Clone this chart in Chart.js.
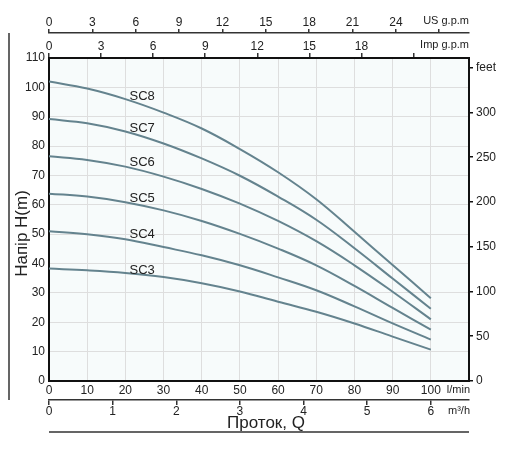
<!DOCTYPE html>
<html><head><meta charset="utf-8">
<script src="https://cdn.jsdelivr.net/npm/chart.js@4.4.1/dist/chart.umd.min.js"></script>
<style>html,body{margin:0;padding:0;background:#fff;overflow:hidden}#wrap{width:512px;height:454px}</style>
</head><body><div id="wrap"><canvas id="c" width="512" height="454"></canvas></div>
<script>
// ---- data (flow in l/min, head in m) ----
const flowLpm = [0, 10, 20, 30, 40, 50, 60, 70, 80, 90, 100];
const headSC8 = [102.0, 99.6, 96.0, 91.4, 86.0, 79.0, 71.1, 61.9, 50.8, 39.5, 28.2];
const headSC7 = [89.2, 87.8, 85.0, 80.9, 75.8, 69.9, 62.8, 54.9, 45.2, 34.9, 24.6];
const headSC6 = [76.5, 75.3, 73.0, 69.6, 65.4, 60.4, 54.5, 47.6, 39.4, 30.4, 21.0];
const headSC5 = [63.8, 62.8, 60.9, 58.1, 54.5, 50.1, 45.1, 39.4, 32.4, 24.9, 17.5];
const headSC4 = [51.0, 50.0, 48.3, 45.6, 42.8, 39.4, 35.3, 30.9, 25.4, 19.6, 14.1];
const headSC3 = [38.3, 37.7, 36.8, 35.4, 33.3, 30.5, 27.0, 23.6, 19.6, 15.1, 10.7];
const seriesNames = ['SC8', 'SC7', 'SC6', 'SC5', 'SC4', 'SC3'];
const seriesHeads = [headSC8, headSC7, headSC6, headSC5, headSC4, headSC3];
// curve name label anchors (data units)
const labelFlow = [24.4, 24.4, 24.4, 24.4, 24.4, 24.4];
const labelHead = [97.0, 85.9, 74.3, 62.1, 49.8, 37.8];
// tick values of every axis
const lpmTicks = [0, 10, 20, 30, 40, 50, 60, 70, 80, 90, 100, 110];
const m3hTicks = [0, 1, 2, 3, 4, 5, 6];
const impTicks = [0, 3, 6, 9, 12, 15, 18, 21];
const usTicks = [0, 3, 6, 9, 12, 15, 18, 21, 24, 27];
const headTicks = [0, 10, 20, 30, 40, 50, 60, 70, 80, 90, 100, 110];
const feetTicks = [0, 50, 100, 150, 200, 250, 300, 350];
// axis units / titles
const unitUS = 'US g.p.m', unitImp = 'Imp g.p.m', unitLpm = 'l/min', unitM3h = 'm³/h', unitFeet = 'feet';
const titleX = 'Проток, Q', titleY = 'Напір H(m)';
const flowMax = 110, headMax = 110;
const LPM_PER_USGPM = 3.78541, LPM_PER_IMPGPM = 4.54609, LPM_PER_M3H = 16.6667, M_PER_FT = 0.3048;

Chart.defaults.font.family = '"Liberation Sans", Arial, sans-serif';
Chart.defaults.font.size = 12;
Chart.defaults.color = '#222';

const lineColor = '#64838e';
const gridColor = '#dedede';
const frame = '#111';

const datasets = seriesNames.map((n, i) => ({
  label: n,
  data: flowLpm.map((q, j) => ({x: q, y: seriesHeads[i][j]})),
  borderColor: lineColor, borderWidth: 2, pointRadius: 0, fill: false,
  tension: 0.4, xAxisID: 'x', yAxisID: 'y'
}));

const fit = (w, h) => (s => { if (w !== null) s.width = w; if (h !== null) s.height = h; });
const setTicks = arr => (s => { s.ticks = arr.map(v => ({value: v})); });
const tk = (pad, cb) => ({padding: pad, autoSkip: false, maxRotation: 0, minRotation: 0, callback: cb || (v => v)});

const deco = {
  id: 'deco',
  beforeDraw(chart) {
    const {ctx, chartArea: a} = chart;
    ctx.save(); ctx.fillStyle = '#f7fbfb';
    ctx.fillRect(a.left, a.top, a.right - a.left, a.bottom - a.top); ctx.restore();
  },
  afterDraw(chart) {
    const {ctx, chartArea: a} = chart;
    const xs = chart.scales.x, ys = chart.scales.y;
    ctx.save();
    ctx.fillStyle = '#222';
    ctx.textBaseline = 'middle';
    ctx.font = '13px "Liberation Sans", Arial, sans-serif';
    ctx.textAlign = 'center';
    seriesNames.forEach((n, i) => ctx.fillText(n, xs.getPixelForValue(labelFlow[i]), ys.getPixelForValue(labelHead[i])));
    ctx.font = '11px "Liberation Sans", Arial, sans-serif';
    ctx.textAlign = 'right';
    ctx.fillText(unitUS, a.right, chart.scales.us.bottom - 12.5);
    ctx.fillText(unitImp, a.right, chart.scales.imp.bottom - 13.3);
    ctx.fillText(unitLpm, a.right + 1, xs.top + 9);
    ctx.fillText(unitM3h, a.right + 1, chart.scales.m3h.top + 11);
    ctx.font = '17px "Liberation Sans", Arial, sans-serif';
    ctx.textAlign = 'center';
    ctx.fillText(titleX, (a.left + a.right) / 2 + 7, chart.scales.m3h.top + 23);
    ctx.save();
    ctx.translate(22, (a.top + a.bottom) / 2 + 14);
    ctx.rotate(-Math.PI / 2);
    ctx.fillText(titleY, 0, 0);
    ctx.restore();
    ctx.strokeStyle = '#333'; ctx.lineWidth = 1.5;
    ctx.beginPath();
    ctx.moveTo(a.left, chart.scales.m3h.top + 32); ctx.lineTo(a.right, chart.scales.m3h.top + 32);
    ctx.moveTo(9, chart.scales.us.bottom); ctx.lineTo(9, chart.scales.m3h.top);
    ctx.stroke();
    ctx.restore();
  }
};

new Chart(document.getElementById('c'), {
  type: 'line',
  data: {datasets},
  plugins: [deco],
  options: {
    responsive: false, animation: false, devicePixelRatio: 1,
    layout: {padding: 0},
    plugins: {legend: {display: false}, tooltip: {enabled: false}},
    scales: {
      x: {
        type: 'linear', position: 'bottom', weight: 1, min: 0, max: flowMax,
        afterFit: fit(null, 19), afterBuildTicks: setTicks(lpmTicks),
        ticks: tk(2, v => v === flowMax ? '' : v),
        grid: {color: gridColor, drawTicks: false},
        border: {display: true, color: frame, width: 2}
      },
      m3h: {
        type: 'linear', position: 'bottom', weight: 2, min: 0, max: flowMax / LPM_PER_M3H,
        afterFit: fit(null, 54), afterBuildTicks: setTicks(m3hTicks),
        ticks: tk(-1),
        grid: {drawOnChartArea: false, drawTicks: true, tickLength: 5, color: '#333', lineWidth: 1.5},
        border: {display: true, color: '#333', width: 1.5}
      },
      imp: {
        type: 'linear', position: 'top', weight: 1, min: 0, max: flowMax / LPM_PER_IMPGPM,
        afterFit: fit(null, 25), afterBuildTicks: setTicks(impTicks),
        ticks: tk(-1, v => v === 21 ? '' : v),
        grid: {drawOnChartArea: false, drawTicks: true, tickLength: 5, color: '#333', lineWidth: 1.5},
        border: {display: true, color: frame, width: 2}
      },
      us: {
        type: 'linear', position: 'top', weight: 2, min: 0, max: flowMax / LPM_PER_USGPM,
        afterFit: fit(null, 33), afterBuildTicks: setTicks(usTicks),
        ticks: tk(-1, v => v === 27 ? '' : v),
        grid: {drawOnChartArea: false, drawTicks: true, tickLength: 4, color: '#333', lineWidth: 1.5},
        border: {display: true, color: '#333', width: 1.5}
      },
      y: {
        type: 'linear', position: 'left', min: 0, max: headMax,
        afterFit: fit(49, null), afterBuildTicks: setTicks(headTicks),
        ticks: tk(4),
        grid: {color: gridColor, drawTicks: false},
        border: {display: true, color: frame, width: 2}
      },
      feet: {
        type: 'linear', position: 'right', min: 0, max: headMax / M_PER_FT,
        afterFit: fit(43, null), afterBuildTicks: setTicks(feetTicks),
        ticks: tk(3, v => v === 350 ? unitFeet : v),
        grid: {drawOnChartArea: false, drawTicks: true, tickLength: 4, color: frame, lineWidth: 1.5},
        border: {display: true, color: frame, width: 2}
      }
    }
  }
});
</script></body></html>
